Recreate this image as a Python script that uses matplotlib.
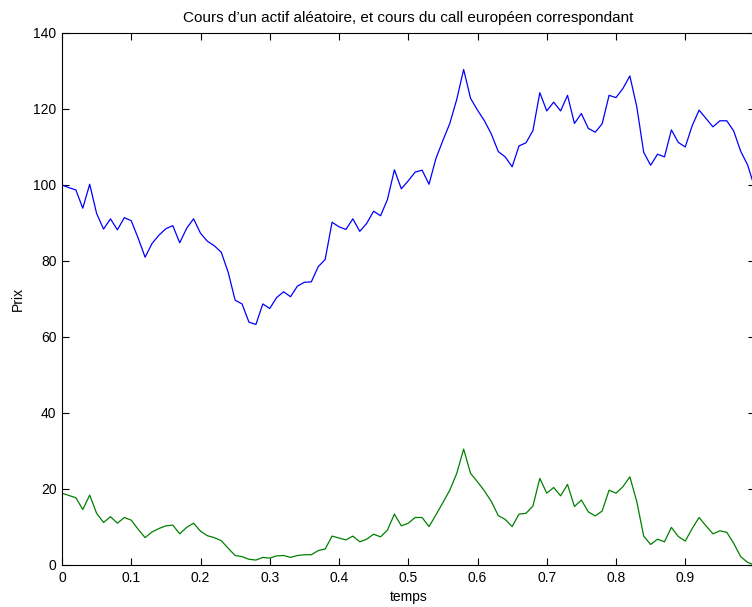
import numpy as np
import matplotlib
matplotlib.use("Agg")
import matplotlib.pyplot as plt

plt.rcParams['font.family'] = ['Liberation Sans', 'DejaVu Sans']

# price path of the asset, sampled every 0.01 on [0, 1]
prix_actif = [
    100.0, 99.3, 98.7, 93.9, 100.2, 92.5, 88.4, 91.1, 88.2, 91.4,
    90.6, 86.0, 81.0, 84.6, 86.8, 88.5, 89.3, 84.8, 88.6, 91.1,
    87.3, 85.2, 84.0, 82.3, 77.0, 69.7, 68.7, 63.9, 63.3, 68.7,
    67.5, 70.4, 71.9, 70.6, 73.4, 74.4, 74.5, 78.5, 80.4, 90.2,
    89.0, 88.3, 91.1, 87.8, 89.9, 93.1, 91.9, 96.2, 104.0, 99.0,
    101.1, 103.4, 103.9, 100.2, 107.0, 111.7, 116.2, 122.5, 130.4, 122.8,
    119.7, 116.9, 113.4, 108.8, 107.4, 104.8, 110.3, 111.1, 114.3, 124.3,
    119.5, 121.8, 119.5, 123.6, 116.2, 118.8, 114.9, 113.9, 116.1, 123.6,
    123.0, 125.4, 128.7, 120.6, 108.6, 105.2, 108.1, 107.4, 114.5, 111.2,
    110.0, 115.6, 119.7, 117.5, 115.3, 116.9, 116.9, 114.2, 108.9, 105.3,
    99.5,
]

# matching european call price
prix_call = [
    18.9, 18.3, 17.7, 14.6, 18.4, 13.6, 11.2, 12.7, 11.0, 12.5,
    11.8, 9.4, 7.2, 8.7, 9.6, 10.3, 10.5, 8.2, 9.9, 11.0,
    8.9, 7.7, 7.2, 6.4, 4.4, 2.5, 2.2, 1.5, 1.3, 2.0,
    1.8, 2.4, 2.5, 2.0, 2.5, 2.7, 2.7, 3.8, 4.2, 7.6,
    7.1, 6.6, 7.6, 6.1, 6.8, 8.1, 7.4, 9.2, 13.4, 10.3,
    11.0, 12.5, 12.5, 10.1, 13.2, 16.4, 19.7, 24.1, 30.5, 24.1,
    21.9, 19.5, 16.7, 13.0, 12.0, 10.1, 13.4, 13.6, 15.5, 22.8,
    18.9, 20.4, 18.2, 21.2, 15.4, 17.1, 14.0, 12.9, 14.2, 19.7,
    18.9, 20.6, 23.2, 16.7, 7.6, 5.4, 6.8, 6.1, 9.9, 7.5,
    6.3, 9.6, 12.5, 10.3, 8.2, 9.0, 8.6, 5.7, 2.2, 0.7,
    0.0,
]

temps = np.arange(len(prix_actif)) / 100

fig = plt.figure(figsize=(7.52, 6.07), dpi=100)
# the axes run slightly past the right edge of the figure
ax = fig.add_axes([62 / 752, 42 / 607, 692.5 / 752, 532 / 607])

ax.plot(temps, prix_actif, color=(0, 0, 1), lw=0.9)
ax.plot(temps, prix_call, color=(0, 0.5, 0), lw=0.9)

ax.set_xlim(0, 1)
ax.set_ylim(0, 140)
ax.set_xticks(np.arange(0, 1.01, 0.1))
# last label falls outside the figure
ax.set_xticklabels(['0', '0.1', '0.2', '0.3', '0.4', '0.5', '0.6', '0.7', '0.8', '0.9', ''])
ax.set_yticks(range(0, 141, 20))

ax.tick_params(direction='in', length=5, width=0.8, top=True, right=True,
               labelsize=10, pad=4)
for sp in ax.spines.values():
    sp.set_linewidth(0.8)

ax.set_title("Cours d’un actif aléatoire, et cours du call européen correspondant",
             fontsize=11, pad=8)
ax.set_xlabel('temps', fontsize=10, labelpad=4)
ax.set_ylabel('Prix', fontsize=10, labelpad=6)

fig.savefig('out.png', dpi=100)
